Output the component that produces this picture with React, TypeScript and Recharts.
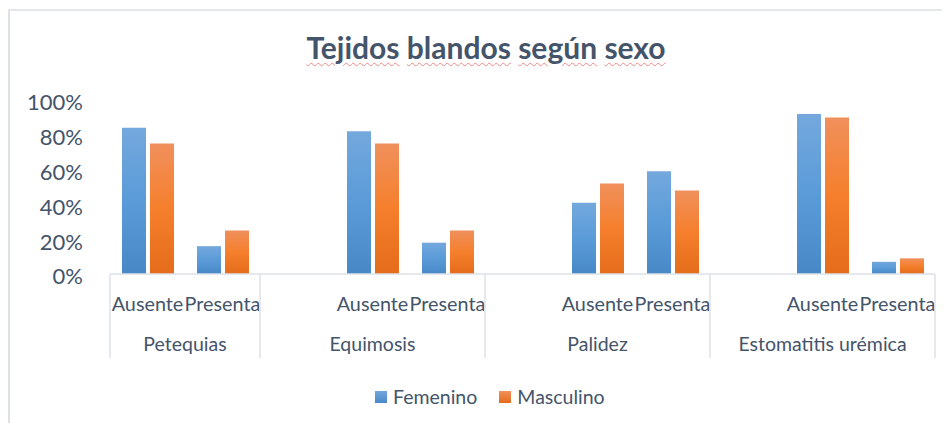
import React from 'react';
import { BarChart, Bar, XAxis, YAxis } from 'recharts';

const groups = [
  'Petequias', 'Petequias',
  'Equimosis', 'Equimosis', 'Equimosis',
  'Palidez', 'Palidez', 'Palidez',
  'Estomatitis urémica', 'Estomatitis urémica', 'Estomatitis urémica',
];
const subLabels = ['Ausente', 'Presenta', '', 'Ausente', 'Presenta', '', 'Ausente', 'Presenta', '', 'Ausente', 'Presenta'];
const femenino = [0.84, 0.16, null, 0.82, 0.18, null, 0.41, 0.59, null, 0.92, 0.07];
const masculino = [0.75, 0.25, null, 0.75, 0.25, null, 0.52, 0.48, null, 0.9, 0.09];
const yTicks = [0, 0.2, 0.4, 0.6, 0.8, 1];
const seriesNames = ['Femenino', 'Masculino'];
const titleWords = ['Tejidos', 'blandos', 'según', 'sexo'];

const data = subLabels.map((s, i) => ({
  id: `${i}`,
  sub: s,
  group: groups[i],
  Femenino: femenino[i],
  Masculino: masculino[i],
}));

const FONT = 'Lato, "Open Sans", sans-serif';
const TEXT = '#44546A';
const LINE = '#dde2e8';
const CHART_W = 942;
const CHART_H = 415;
const MARGIN = { top: 92, right: 15, bottom: 59, left: 0 };
const Y_W = 102;
const X_H = 90;
const PLOT_W = CHART_W - MARGIN.left - MARGIN.right - Y_W;
const BW = PLOT_W / subLabels.length;

function XTick(props: any) {
  const { x, y, payload } = props;
  const i = props.index ?? payload?.index ?? 0;
  const parts: any[] = [];
  if (subLabels[i]) {
    parts.push(
      <text key="s" x={x} y={y + 36.5} textAnchor="middle" fontSize={19.8} fill={TEXT} fontFamily={FONT}>
        {subLabels[i]}
      </text>
    );
  }
  const isStart = i === 0 || groups[i] !== groups[i - 1];
  if (isStart) {
    const count = groups.filter((g) => g === groups[i]).length;
    parts.push(<line key="l" x1={x - BW / 2} x2={x - BW / 2} y1={y} y2={y + 84} stroke={LINE} strokeWidth={1.5} />);
    parts.push(
      <text key="g" x={x + ((count - 1) / 2) * BW} y={y + 77} textAnchor="middle" fontSize={19.5} fill={TEXT} fontFamily={FONT}>
        {groups[i]}
      </text>
    );
  }
  if (i === subLabels.length - 1) {
    parts.push(<line key="r" x1={x + BW / 2} x2={x + BW / 2} y1={y} y2={y + 84} stroke={LINE} strokeWidth={1.5} />);
  }
  return <g>{parts}</g>;
}

function YTick(props: any) {
  const { x, y, payload } = props;
  return (
    <text x={x} y={y + 2.6} dy="0.355em" textAnchor="end" fontSize={22} fill={TEXT} fontFamily={FONT}>
      {`${Math.round(payload.value * 100)}%`}
    </text>
  );
}

export default function App() {
  return (
    <div style={{ position: 'relative', width: CHART_W, height: CHART_H, fontFamily: FONT }}>
      <div style={{ position: 'absolute', left: 0, top: 1, width: 2, height: CHART_H - 1, background: '#dde2e8' }} />
      <div style={{ position: 'absolute', left: 0, top: 1, width: CHART_W, height: 1.5, background: '#e3e7ec' }} />
      <div
        style={{
          position: 'absolute',
          left: 178,
          width: 600,
          top: 21,
          textAlign: 'center',
          fontSize: 30,
          fontWeight: 700,
          color: TEXT,
          lineHeight: 1.2,
          whiteSpace: 'nowrap',
        }}
      >
        {titleWords.map((w, i) => (
          <React.Fragment key={i}>
            <span
              style={{
                textDecorationLine: 'underline',
                textDecorationStyle: 'wavy',
                textDecorationColor: '#f08a8a',
                textDecorationThickness: '1px',
                textUnderlineOffset: '3px',
              }}
            >
              {w}
            </span>
            {i < titleWords.length - 1 ? ' ' : ''}
          </React.Fragment>
        ))}
      </div>
      <div style={{ position: 'absolute', left: 0, top: 0 }}>
        <BarChart width={CHART_W} height={CHART_H} data={data} margin={MARGIN} barSize={24} barGap={4}>
          <defs>
            <linearGradient id="gBlue" x1="0" y1="0" x2="0" y2="1">
              <stop offset="0%" stopColor="#74a8dd" />
              <stop offset="50%" stopColor="#5a9bd8" />
              <stop offset="100%" stopColor="#4888c7" />
            </linearGradient>
            <linearGradient id="gOrange" x1="0" y1="0" x2="0" y2="1">
              <stop offset="0%" stopColor="#f0905c" />
              <stop offset="50%" stopColor="#f57f2c" />
              <stop offset="100%" stopColor="#e46c1a" />
            </linearGradient>
          </defs>
          <XAxis
            dataKey="id"
            height={X_H}
            interval={0}
            tickLine={false}
            tickSize={0}
            tickMargin={0}
            axisLine={{ stroke: LINE, strokeWidth: 1.5 }}
            tick={<XTick />}
          />
          <YAxis
            width={Y_W}
            domain={[0, 1]}
            ticks={yTicks}
            axisLine={false}
            tickLine={false}
            tickSize={0}
            tickMargin={27}
            tick={<YTick />}
          />
          <Bar dataKey="Femenino" fill="url(#gBlue)" isAnimationActive={false} />
          <Bar dataKey="Masculino" fill="url(#gOrange)" isAnimationActive={false} />
        </BarChart>
      </div>
      <div
        style={{
          position: 'absolute',
          left: 367,
          top: 377,
          display: 'flex',
          alignItems: 'center',
          fontSize: 19.5,
          color: TEXT,
          lineHeight: '24px',
          whiteSpace: 'nowrap',
        }}
      >
        {seriesNames.map((n, i) => (
          <div key={n} style={{ display: 'flex', alignItems: 'center', marginRight: i === 0 ? 22 : 0 }}>
            <span
              style={{
                display: 'inline-block',
                width: 12,
                height: 12,
                marginRight: 6,
                background: `linear-gradient(${i === 0 ? '#74a8dd, #4888c7' : '#f0905c, #e46c1a'})`,
              }}
            />
            <span>{n}</span>
          </div>
        ))}
      </div>
    </div>
  );
}
